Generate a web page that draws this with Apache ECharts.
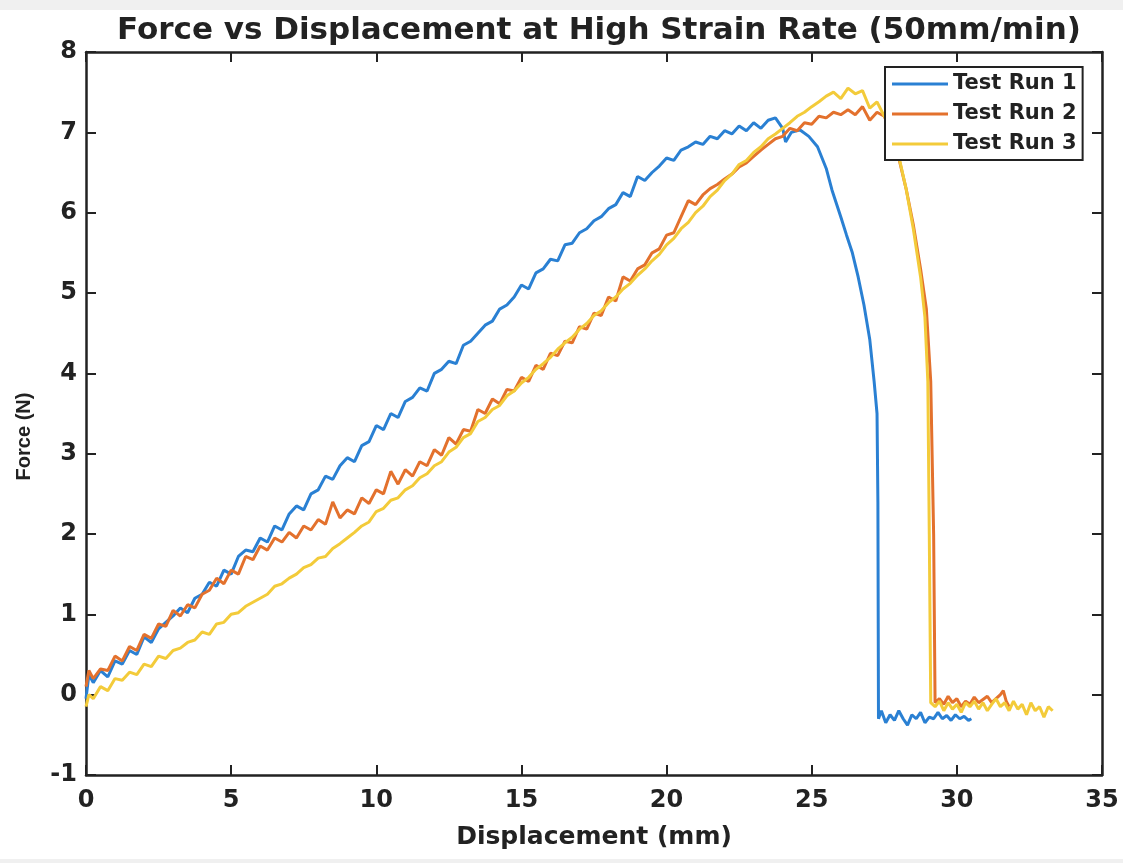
<!DOCTYPE html>
<html>
<head>
<meta charset="utf-8">
<script src="https://cdn.jsdelivr.net/npm/echarts@6/dist/echarts.min.js"></script>
<style>
html,body{margin:0;padding:0;background:#fff;}
#chart{width:1123px;height:863px;}
</style>
</head>
<body>
<div id="chart"></div>
<script>
const titleText = 'Force vs Displacement at High Strain Rate (50mm/min)';
const xName = 'Displacement (mm)';
const yName = 'Force (N)';
const seriesNames = ['Test Run 1', 'Test Run 2', 'Test Run 3'];
const xMin = 0, xMax = 35, xStep = 5;
const yMin = -1, yMax = 8, yStep = 1;

const run1 = [
[0,-0.05],[0.1,0.25],[0.25,0.15],[0.5,0.3],[0.75,0.22],[1,0.42],[1.25,0.38],[1.5,0.55],[1.75,0.5],[2,0.72],
[2.25,0.65],[2.5,0.82],[2.75,0.9],[3,0.98],[3.25,1.08],[3.5,1.02],[3.75,1.2],[4,1.25],[4.25,1.4],[4.5,1.35],
[4.75,1.55],[5,1.5],[5.25,1.72],[5.5,1.8],[5.75,1.78],[6,1.95],[6.25,1.9],[6.5,2.1],[6.75,2.05],[7,2.25],
[7.25,2.35],[7.5,2.3],[7.75,2.5],[8,2.55],[8.25,2.72],[8.5,2.68],[8.75,2.85],[9,2.95],[9.25,2.9],[9.5,3.1],
[9.75,3.15],[10,3.35],[10.25,3.3],[10.5,3.5],[10.75,3.45],[11,3.65],[11.25,3.7],[11.5,3.82],[11.75,3.78],[12,4.0],
[12.25,4.05],[12.5,4.15],[12.75,4.12],[13,4.35],[13.25,4.4],[13.5,4.5],[13.75,4.6],[14,4.65],[14.25,4.8],[14.5,4.85],
[14.75,4.95],[15,5.1],[15.25,5.05],[15.5,5.25],[15.75,5.3],[16,5.42],[16.25,5.4],[16.5,5.6],[16.75,5.62],[17,5.75],
[17.25,5.8],[17.5,5.9],[17.75,5.95],[18,6.05],[18.25,6.1],[18.5,6.25],[18.75,6.2],[19,6.45],[19.25,6.4],[19.5,6.5],
[19.75,6.58],[20,6.68],[20.25,6.65],[20.5,6.78],[20.75,6.82],[21,6.88],[21.25,6.85],[21.5,6.95],[21.75,6.92],[22,7.02],
[22.25,6.98],[22.5,7.08],[22.75,7.02],[23,7.12],[23.25,7.05],[23.5,7.15],[23.75,7.18],[24,7.05],[24.1,6.88],[24.3,7.0],
[24.6,7.03],[24.9,6.95],[25.2,6.82],[25.5,6.55],[25.7,6.28],[26,5.95],[26.2,5.72],[26.4,5.5],[26.6,5.2],[26.8,4.85],
[27,4.42],[27.15,3.9],[27.25,3.5],[27.28,2.4],[27.3,-0.3],[27.4,-0.2],[27.55,-0.35],[27.7,-0.25],[27.85,-0.32],[28,-0.2],
[28.15,-0.3],[28.3,-0.38],[28.45,-0.25],[28.6,-0.3],[28.75,-0.22],[28.9,-0.35],[29.05,-0.28],[29.2,-0.3],[29.35,-0.22],[29.5,-0.3],
[29.65,-0.26],[29.8,-0.32],[29.95,-0.25],[30.1,-0.3],[30.25,-0.27],[30.4,-0.32],[30.5,-0.3]
];

const run2 = [
[0,0.1],[0.1,0.3],[0.25,0.2],[0.5,0.32],[0.75,0.3],[1,0.48],[1.25,0.42],[1.5,0.6],[1.75,0.55],[2,0.75],
[2.25,0.7],[2.5,0.88],[2.75,0.85],[3,1.05],[3.25,0.98],[3.5,1.12],[3.75,1.08],[4,1.25],[4.25,1.3],[4.5,1.45],
[4.75,1.38],[5,1.55],[5.25,1.5],[5.5,1.72],[5.75,1.68],[6,1.85],[6.25,1.8],[6.5,1.95],[6.75,1.9],[7,2.02],
[7.25,1.95],[7.5,2.1],[7.75,2.05],[8,2.18],[8.25,2.12],[8.5,2.4],[8.75,2.2],[9,2.3],[9.25,2.25],[9.5,2.45],
[9.75,2.38],[10,2.55],[10.25,2.5],[10.5,2.78],[10.75,2.62],[11,2.8],[11.25,2.72],[11.5,2.9],[11.75,2.85],[12,3.05],
[12.25,2.98],[12.5,3.2],[12.75,3.12],[13,3.3],[13.25,3.28],[13.5,3.55],[13.75,3.5],[14,3.68],[14.25,3.62],[14.5,3.8],
[14.75,3.78],[15,3.95],[15.25,3.9],[15.5,4.1],[15.75,4.05],[16,4.25],[16.25,4.22],[16.5,4.4],[16.75,4.38],[17,4.58],
[17.25,4.55],[17.5,4.75],[17.75,4.72],[18,4.95],[18.25,4.9],[18.5,5.2],[18.75,5.15],[19,5.3],[19.25,5.35],[19.5,5.5],
[19.75,5.55],[20,5.72],[20.25,5.75],[20.5,5.95],[20.75,6.15],[21,6.1],[21.25,6.22],[21.5,6.3],[21.75,6.35],[22,6.42],
[22.25,6.48],[22.5,6.57],[22.75,6.62],[23,6.7],[23.25,6.78],[23.5,6.85],[23.75,6.92],[24,6.95],[24.25,7.05],[24.5,7.02],
[24.75,7.12],[25,7.1],[25.25,7.2],[25.5,7.18],[25.75,7.25],[26,7.22],[26.25,7.28],[26.5,7.22],[26.75,7.32],[27,7.15],
[27.25,7.25],[27.5,7.2],[27.75,7.0],[28,6.68],[28.25,6.3],[28.5,5.85],[28.75,5.3],[28.95,4.8],[29.1,3.9],[29.2,2.0],
[29.25,-0.1],[29.4,-0.05],[29.55,-0.12],[29.7,-0.02],[29.85,-0.1],[30,-0.05],[30.15,-0.15],[30.3,-0.08],[30.45,-0.12],[30.6,-0.03],
[30.75,-0.1],[30.9,-0.06],[31.05,-0.02],[31.2,-0.1],[31.35,-0.05],[31.5,0.0],[31.6,0.05],[31.7,-0.08],[31.8,-0.15]
];

const run3 = [
[0,-0.15],[0.1,0.0],[0.25,-0.05],[0.5,0.1],[0.75,0.05],[1,0.2],[1.25,0.18],[1.5,0.28],[1.75,0.25],[2,0.38],
[2.25,0.35],[2.5,0.48],[2.75,0.45],[3,0.55],[3.25,0.58],[3.5,0.65],[3.75,0.68],[4,0.78],[4.25,0.75],[4.5,0.88],
[4.75,0.9],[5,1.0],[5.25,1.02],[5.5,1.1],[5.75,1.15],[6,1.2],[6.25,1.25],[6.5,1.35],[6.75,1.38],[7,1.45],
[7.25,1.5],[7.5,1.58],[7.75,1.62],[8,1.7],[8.25,1.72],[8.5,1.82],[8.75,1.88],[9,1.95],[9.25,2.02],[9.5,2.1],
[9.75,2.15],[10,2.28],[10.25,2.32],[10.5,2.42],[10.75,2.45],[11,2.55],[11.25,2.6],[11.5,2.7],[11.75,2.75],[12,2.85],
[12.25,2.9],[12.5,3.02],[12.75,3.08],[13,3.2],[13.25,3.25],[13.5,3.4],[13.75,3.45],[14,3.55],[14.25,3.6],[14.5,3.72],
[14.75,3.78],[15,3.88],[15.25,3.95],[15.5,4.05],[15.75,4.12],[16,4.2],[16.25,4.3],[16.5,4.38],[16.75,4.45],[17,4.55],
[17.25,4.62],[17.5,4.72],[17.75,4.78],[18,4.88],[18.25,4.95],[18.5,5.05],[18.75,5.12],[19,5.22],[19.25,5.3],[19.5,5.4],
[19.75,5.48],[20,5.6],[20.25,5.68],[20.5,5.8],[20.75,5.88],[21,6.0],[21.25,6.08],[21.5,6.2],[21.75,6.28],[22,6.4],
[22.25,6.48],[22.5,6.6],[22.75,6.65],[23,6.75],[23.25,6.82],[23.5,6.92],[23.75,6.98],[24,7.05],[24.25,7.12],[24.5,7.2],
[24.75,7.25],[25,7.32],[25.25,7.38],[25.5,7.45],[25.75,7.5],[26,7.42],[26.25,7.55],[26.5,7.48],[26.75,7.52],[27,7.3],
[27.25,7.38],[27.5,7.2],[27.75,7.05],[28,6.7],[28.25,6.3],[28.5,5.8],[28.75,5.2],[28.9,4.7],[29,3.9],[29.05,2.0],
[29.1,-0.1],[29.25,-0.15],[29.4,-0.08],[29.55,-0.2],[29.7,-0.1],[29.85,-0.18],[30,-0.12],[30.15,-0.22],[30.3,-0.1],[30.45,-0.15],
[30.6,-0.08],[30.75,-0.18],[30.9,-0.1],[31.05,-0.2],[31.2,-0.12],[31.35,-0.05],[31.5,-0.15],[31.65,-0.1],[31.8,-0.2],[31.95,-0.08],
[32.1,-0.18],[32.25,-0.12],[32.4,-0.25],[32.55,-0.1],[32.7,-0.2],[32.85,-0.15],[33,-0.28],[33.15,-0.15],[33.3,-0.2]
];

const colors = ['#2a80d3', '#e3712d', '#f3cb3a'];
const axisColor = '#222';
const fontFam = 'DejaVu Sans';

const chart = echarts.init(document.getElementById('chart'), null, {renderer: 'canvas'});

function axisBase(extra) {
  return Object.assign({
    axisLine: {show: true, onZero: false, lineStyle: {color: axisColor, width: 2.5}},
    axisTick: {show: true, inside: true, length: 10, lineStyle: {color: axisColor, width: 2}},
    splitLine: {show: false},
    axisLabel: {show: false}
  }, extra);
}

const option = {
  backgroundColor: '#ffffff',
  animation: false,
  color: colors,
  title: {
    text: titleText,
    left: 594,
    textAlign: 'center',
    top: 10,
    textStyle: {fontFamily: fontFam, fontWeight: 'bold', fontSize: 31, color: axisColor}
  },
  graphic: [
    {type: 'rect', left: 0, top: 0, shape: {width: 1123, height: 10}, style: {fill: '#f0f0f0'}, z: -10},
    {type: 'rect', left: 0, top: 859, shape: {width: 1123, height: 4}, style: {fill: '#f0f0f0'}, z: -10}
  ],
  legend: {
    data: seriesNames,
    orient: 'vertical',
    left: 885,
    top: 67,
    icon: 'rect',
    itemWidth: 56,
    itemHeight: 3,
    itemGap: 8,
    padding: [6, 6, 5, 7],
    backgroundColor: '#ffffff',
    borderColor: axisColor,
    borderWidth: 2,
    borderRadius: 0,
    textStyle: {fontFamily: fontFam, fontWeight: 'bold', fontSize: 21, color: axisColor, lineHeight: 22},
    z: 10
  },
  grid: {left: 86, right: 21, top: 52, bottom: 88, containLabel: false},
  xAxis: [
    axisBase({
      type: 'value', min: xMin, max: xMax, interval: xStep, position: 'bottom',
      name: xName, nameLocation: 'middle', nameGap: 50,
      nameTextStyle: {fontFamily: fontFam, fontWeight: 'bold', fontSize: 25, color: axisColor},
      axisLabel: {show: true, margin: 14, fontFamily: fontFam, fontWeight: 'bold', fontSize: 24, color: axisColor}
    }),
    axisBase({type: 'value', min: xMin, max: xMax, interval: xStep, position: 'top'})
  ],
  yAxis: [
    axisBase({
      type: 'value', min: yMin, max: yMax, interval: yStep, position: 'left',
      name: yName, nameLocation: 'middle', nameGap: 52,
      nameTextStyle: {fontFamily: 'Liberation Sans', fontWeight: 'bold', fontSize: 20, color: axisColor, padding: [0, 46, 0, 0]},
      axisLabel: {show: true, margin: 9, fontFamily: fontFam, fontWeight: 'bold', fontSize: 24, color: axisColor}
    }),
    axisBase({type: 'value', min: yMin, max: yMax, interval: yStep, position: 'right'})
  ],
  series: [run1, run2, run3].map((d, i) => ({
    name: seriesNames[i],
    type: 'line',
    data: d,
    xAxisIndex: 0,
    yAxisIndex: 0,
    showSymbol: false,
    symbol: 'none',
    lineStyle: {width: 3, color: colors[i]},
    itemStyle: {color: colors[i]},
    z: 2 + i
  }))
};

chart.setOption(option);
</script>
</body>
</html>
